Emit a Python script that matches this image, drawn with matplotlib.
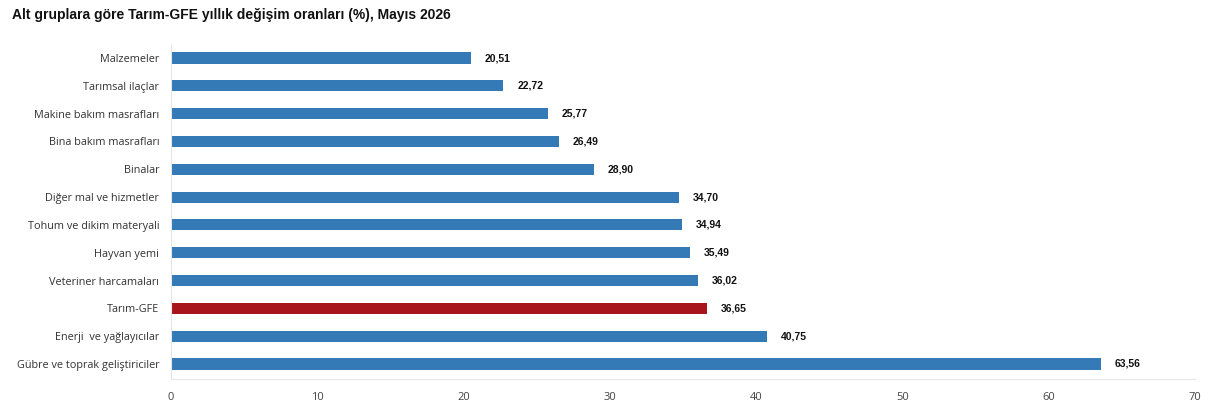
import matplotlib.pyplot as plt

categories = ['Malzemeler', 'Tarımsal ilaçlar', 'Makine bakım masrafları',
              'Bina bakım masrafları', 'Binalar', 'Diğer mal ve hizmetler',
              'Tohum ve dikim materyali', 'Hayvan yemi', 'Veteriner harcamaları',
              'Tarım-GFE', 'Enerji  ve yağlayıcılar', 'Gübre ve toprak geliştiriciler']
values = [20.51, 22.72, 25.77, 26.49, 28.90, 34.70, 34.94, 35.49, 36.02, 36.65, 40.75, 63.56]
highlight = 'Tarım-GFE'

fig = plt.figure(figsize=(12.14, 4.15), dpi=100)
ax = fig.add_axes([0.1409, 0.0867, 0.8434, 0.805])

pos = list(range(len(categories)))
colors = ['#a8151b' if c == highlight else '#337ab7' for c in categories]
ax.barh(pos, values, height=0.4, color=colors, edgecolor='none')
for p, v in zip(pos, values):
    ax.text(v + 0.95, p, f'{v:.2f}'.replace('.', ','), va='center', ha='left',
            fontsize=7.5, fontweight='bold', family='Liberation Sans', color='#111111')

ax.set_ylim(len(categories) - 0.46, -0.47)
ax.set_xlim(0, 70)
ax.set_yticks(pos)
ax.set_yticklabels(categories, fontsize=7.8, family='Open Sans', color='#333333')
ax.set_xticks(range(0, 71, 10))
ax.tick_params(axis='x', labelsize=8, labelcolor='#444444', length=0, pad=9)
ax.tick_params(axis='y', length=0, pad=8.5)
for lbl in ax.get_xticklabels():
    lbl.set_family('Open Sans')
for s in ['top', 'right']:
    ax.spines[s].set_visible(False)
ax.spines['left'].set_color('#e6e6e6')
ax.spines['bottom'].set_color('#e6e6e6')

fig.text(0.0099, 0.964, 'Alt gruplara göre Tarım-GFE yıllık değişim oranları (%), Mayıs 2026',
         fontsize=10, fontweight='bold', family='Liberation Sans', color='#111111', va='center')

fig.savefig('out.png', dpi=100)
